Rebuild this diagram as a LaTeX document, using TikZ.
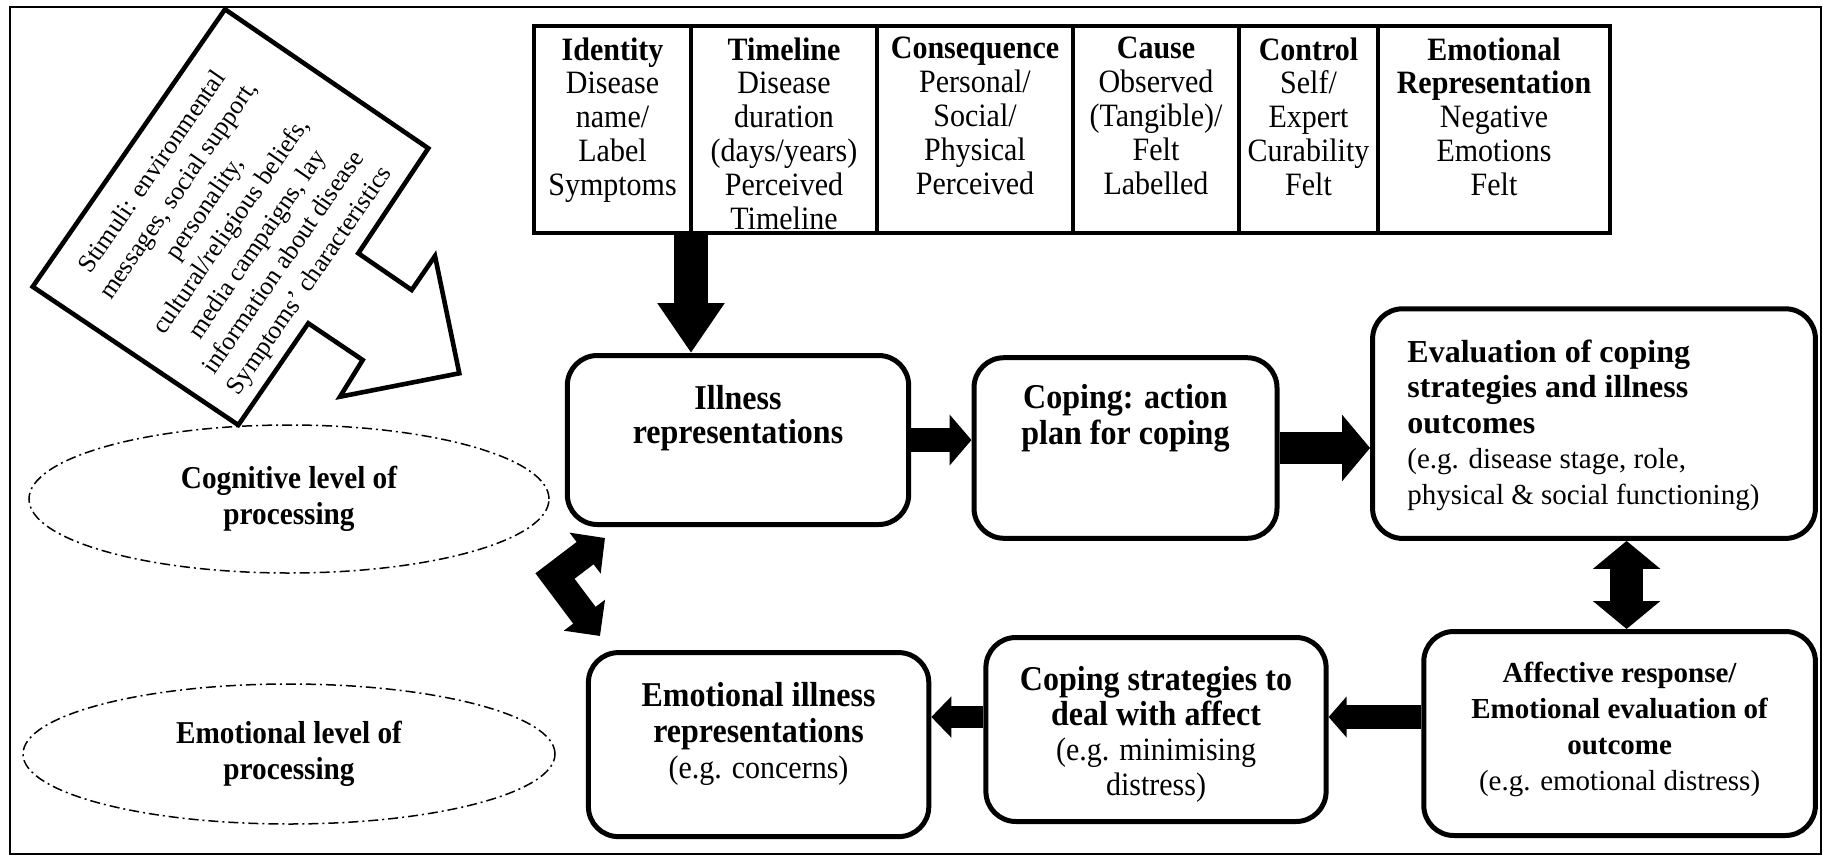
\documentclass[tikz,border=0pt]{standalone}
\usepackage{fontspec}
\setmainfont{Liberation Serif}
\newfontfamily\narrowserif{Liberation Serif}[FakeStretch=0.92]
\usetikzlibrary{arrows.meta,shapes.geometric,calc}

\tikzset{
  box/.style={draw, line width=2.5pt, rounded corners=15pt, inner sep=0pt},
  txt/.style={align=center, inner sep=0pt},
  cell/.style={anchor=north, align=center, inner sep=0pt, font=\narrowserif\fontsize{16.3}{16.9}\selectfont},
  level/.style={ellipse, draw, line width=0.75pt, dash pattern=on 5pt off 2pt on 1pt off 2pt,
    align=center, inner sep=0pt, font=\narrowserif\fontsize{15.9}{18}\selectfont\bfseries},
  fat/.style={line width=#1, line join=miter},
}
\newcommand\notefont[1]{{\fontsize{16.3}{18}\selectfont\mdseries #1}}

\begin{document}
\begin{tikzpicture}[x=0.5pt, y=-0.5pt]
  \fill[white] (0,0) rectangle (1827,857);
  \useasboundingbox (0,0) rectangle (1827,857);
  \draw[line width=1pt] (10,7) rectangle (1821,854);

  % table of the representation attributes
  \draw[line width=2pt] (534,26) rectangle (1610,233);
  \foreach \x in {691,877,1073,1239,1378}
    \draw[line width=2pt] (\x,26) -- (\x,233);
  \node[cell] (idcol) at (612.5,37) {\textbf{Identity}\\Disease\\name/\\Label\\Symptoms};
  \node[cell] (tlcol) at (784,37) {\textbf{Timeline}\\Disease\\duration\\(days/years)\\Perceived\\Timeline};
  \node[cell] (cqcol) at (975,37) {\textbf{Consequence}\\Personal/\\Social/\\Physical\\Perceived};
  \node[cell] (cscol) at (1156,37) {\textbf{Cause}\\Observed\\(Tangible)/\\Felt\\Labelled};
  \node[cell] (ctcol) at (1308.5,37) {\textbf{Control}\\Self/\\Expert\\Curability\\Felt};
  \node[cell] (emcol) at (1494,37) {\textbf{Emotional}\\\textbf{Representation}\\Negative\\Emotions\\Felt};
  \coordinate (tabfoot) at (691,233);

  % stimuli block arrow
  \draw[line width=2.3pt, line join=miter]
    (225,9.3) -- (428.3,148.3) -- (358.3,253.3) -- (411.7,290) -- (435,256)
    -- (459.3,373.3) -- (340,396.7) -- (362.7,360) -- (308.3,323.3)
    -- (238.3,425) -- (32.7,286.7) -- cycle;
  \node[txt, rotate=55.4, font=\fontsize{12.8}{15.9}\selectfont] (stim) at (232,227)
    {Stimuli: environmental\\messages, social support,\\personality,\\cultural/religious beliefs,\\media campaigns, lay\\information about disease\\Symptoms’ characteristics};

  % levels of processing
  \node[level, minimum width=260pt, minimum height=74pt] (coglvl) at (289,499) {Cognitive level of\\processing};
  \node[level, minimum width=266pt, minimum height=70pt] (emolvl) at (289,754) {Emotional level of\\processing};

  % boxes
  \node[box, minimum width=170.7pt, minimum height=84.5pt] (ill) at (738,440) {};
  \node[box, minimum width=151.5pt, minimum height=90.3pt] (cop) at (1125.5,448) {};
  \node[box, minimum width=221.4pt, minimum height=114.8pt] (eval) at (1594,423.6) {};
  \node[box, minimum width=195.8pt, minimum height=102pt] (aff) at (1619.6,733.5) {};
  \node[box, minimum width=170.1pt, minimum height=92pt] (costr) at (1156,729.5) {};
  \node[box, minimum width=170.2pt, minimum height=92pt] (emo) at (758.6,744.6) {};

  \node[txt, font=\narrowserif\fontsize{17.4}{17}\selectfont\bfseries] (illtxt) at (738,418) {Illness\\representations};
  \node[txt, font=\narrowserif\fontsize{17.4}{18}\selectfont\bfseries] (coptxt) at (1125.5,418) {Coping: action\\plan for coping};
  \node[txt, align=left, anchor=west, font=\fontsize{16}{17.75}\selectfont\bfseries] (evaltxt) at (1407,425)
    {Evaluation of coping\\strategies and illness\\outcomes\\{\fontsize{14.5}{17.75}\selectfont\mdseries (e.g. disease stage, role,}\\{\fontsize{14.5}{17.75}\selectfont\mdseries physical \& social functioning)}};
  \node[txt, font=\fontsize{14.5}{18}\selectfont\bfseries] (afftxt) at (1619.6,729)
    {Affective response/\\Emotional evaluation of\\outcome\\{\mdseries (e.g. emotional distress)}};
  \node[txt, font=\narrowserif\fontsize{17.4}{17.5}\selectfont\bfseries] (costrtxt) at (1156,734)
    {Coping strategies to\\deal with affect\\\notefont{(e.g. minimising}\\\notefont{distress)}};
  \node[txt, font=\narrowserif\fontsize{17.4}{18}\selectfont\bfseries] (emotxt) at (758.5,734)
    {Emotional illness\\representations\\\notefont{(e.g. concerns)}};

  % block connectors
  \draw[fat=17pt, -{Triangle[width=32pt,length=25pt]}] (tabfoot) -- (tabfoot |- ill.north);
  \draw[fat=12.3pt, -{Triangle[width=25pt,length=11pt]}] (ill.east) -- (ill.east -| cop.west);
  \draw[fat=16pt, -{Triangle[width=32.5pt,length=14pt]}] (cop.east) -- (cop.east -| eval.west);
  \coordinate (affin) at ([xshift=3.5pt]aff.north);
  \draw[fat=16.5pt, {Triangle[width=33pt,length=14pt]}-{Triangle[width=33pt,length=14pt]}]
    (affin) -- (affin |- eval.south);
  \coordinate (lowrow) at (0,717);
  \draw[fat=11.7pt, -{Triangle[width=20pt,length=9pt]}] (aff.west |- lowrow) -- (costr.east |- lowrow);
  \draw[fat=11pt, -{Triangle[width=20pt,length=10pt]}] (costr.west |- lowrow) -- (emo.east |- lowrow);

  \coordinate (bend) at (555,576);
  \coordinate (uptip) at (605,538);
  \coordinate (lowtip) at (600,636);
  \draw[fat=14pt, {Triangle[width=25pt,length=12.5pt]}-{Triangle[width=25pt,length=13pt]}]
    (uptip) -- (bend) -- (lowtip);
\end{tikzpicture}
\end{document}
